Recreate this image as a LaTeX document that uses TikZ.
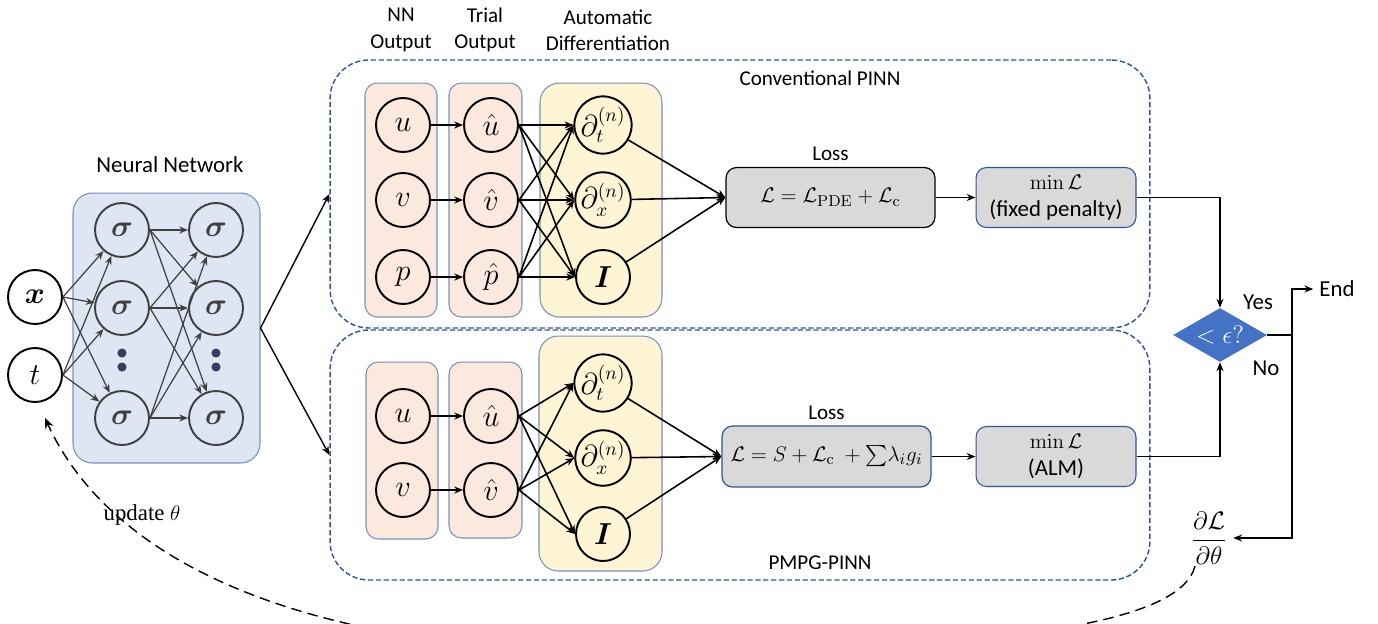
\documentclass[tikz,border=0pt]{standalone}
\usepackage{amsmath}
\usepackage[no-math]{fontspec}
\setmainfont{Carlito}
\newfontfamily\cambria{Liberation Serif}
\usetikzlibrary{arrows.meta,shapes.geometric,positioning}
\definecolor{nnfill}{RGB}{222,230,243}
\definecolor{nnedge}{RGB}{120,145,190}
\definecolor{nngray}{RGB}{64,64,64}
\definecolor{dotblue}{RGB}{50,65,95}
\definecolor{pinkfill}{RGB}{251,233,222}
\definecolor{yellowfill}{RGB}{255,244,212}
\definecolor{lossgray}{RGB}{217,217,217}
\definecolor{panelblue}{RGB}{47,85,151}
\definecolor{diamondblue}{RGB}{68,114,196}

\begin{document}
\begin{tikzpicture}[x=0.02cm,y=-0.02cm, % one unit = one pixel of the sketch
  font=\fontsize{12}{15}\selectfont,
  neuron/.style={circle,draw=black,line width=1.1pt,minimum size=1.08cm,inner sep=0pt,font=\fontsize{16}{18}\selectfont},
  hidden/.style={neuron,draw=nngray,text=nngray},
  layerbox/.style={draw=nnedge,line width=0.6pt,rounded corners=7pt},
  panel/.style={draw=panelblue,line width=0.8pt,dash pattern=on 3pt off 1.5pt,rounded corners=22pt},
  lossbox/.style={draw,fill=lossgray,rounded corners=6pt,minimum width=4.18cm,minimum height=1.2cm,line width=0.7pt,font=\fontsize{13}{15}\selectfont},
  minbox/.style={draw=panelblue,fill=lossgray,rounded corners=6pt,minimum width=3.2cm,minimum height=1.2cm,align=center,line width=0.6pt,font=\fontsize{13}{15}\selectfont},
  nnarrow/.style={draw=nngray,line width=0.7pt,-{Stealth[length=5pt,width=4pt]}},
  conn/.style={line width=0.9pt,-{Stealth[length=5pt,width=4pt]}},
  flow/.style={line width=0.8pt,-{Stealth[length=5pt,width=4pt]}}]

\useasboundingbox (0,0) rectangle (1378,623);

\def\nnx{403} % NN output column
\def\hatx{491} % trial output column
\def\adx{603} % automatic differentiation column

%% neural network
\node[font=\fontsize{13}{15}\selectfont] (nntitle) at (170,165) {Neural Network};
\node[layerbox,fill=nnfill,rounded corners=11pt,minimum width=3.74cm,minimum height=5.4cm] (nnbox) at (166.5,328) {};
\node[neuron] (x) at (35,297) {$\boldsymbol{x}$};
\node[neuron] (t) at (35,375) {$t$};
\foreach \i/\yy in {1/230,2/308,3/418} {
  \node[hidden] (h1\i) at (122,\yy) {$\boldsymbol{\sigma}$};
  \node[hidden] (h2\i) at (216,\yy) {$\boldsymbol{\sigma}$};
}
\foreach \xx in {122,216} {
  \fill[dotblue] (\xx,353) circle (2.6pt);
  \fill[dotblue] (\xx,367) circle (2.6pt);
}
\foreach \i in {1,2,3} {
  \draw[nnarrow] (x.east) -- (h1\i);
  \draw[nnarrow] (t.east) -- (h1\i);
  \foreach \j in {1,2,3} \draw[nnarrow] (h1\i.east) -- (h2\j);
}

%% column headers
\node[align=center] (hdrnn) at (401,30) {NN\\Output};
\node[align=center] (hdrtrial) at (485,30) {Trial\\Output};
\node[align=center] (hdrad) at (608,30) {Automatic\\Differentiation};

%% the two panels
\node[panel,minimum width=16.4cm,minimum height=5.36cm] (conv) at (740,194) {};
\node (convtitle) at (820,78) {Conventional PINN};
\node[panel,minimum width=16.4cm,minimum height=5.0cm] (pmpg) at (740,455) {};
\node (pmpgtitle) at (820,563) {PMPG-PINN};
\draw[flow] (nnbox.east) -- (conv.west);
\draw[flow] (nnbox.east) -- (pmpg.west);

%% conventional PINN
\node[layerbox,fill=pinkfill,minimum width=1.44cm,minimum height=4.68cm] (nnout1) at (401,200) {};
\node[layerbox,fill=pinkfill,minimum width=1.46cm,minimum height=4.68cm] (trial1) at (485.5,200) {};
\node[layerbox,fill=yellowfill,rounded corners=11pt,minimum width=2.44cm,minimum height=4.68cm] (ad1) at (601,200) {};
\node[neuron] (u1) at (\nnx,125) {$u$};
\node[neuron] (v1) at (\nnx,200) {$v$};
\node[neuron] (p1) at (\nnx,277) {$p$};
\node[neuron] (uh1) at (\hatx,125) {$\hat{u}$};
\node[neuron] (vh1) at (\hatx,200) {$\hat{v}$};
\node[neuron] (ph1) at (\hatx,277) {$\hat{p}$};
\node[neuron] (dt1) at (\adx,125) {$\partial_t^{(n)}$};
\node[neuron] (dx1) at (\adx,200) {$\partial_x^{(n)}$};
\node[neuron] (id1) at (\adx,277) {$\boldsymbol{I}$};
\foreach \a in {u,v,p} \draw[conn] (\a1) -- (\a h1);
\foreach \a in {uh1,vh1,ph1}
  \foreach \b in {dt1,dx1,id1} \draw[conn] (\a.east) -- (\b.west);
\node[lossbox] (loss1) at (830.5,197.5) {$\mathcal{L} = \mathcal{L}_{\mathrm{PDE}} + \mathcal{L}_{\mathrm{c}}$};
\node[above=0pt of loss1] (losslbl1) {Loss};
\foreach \b in {dt1,dx1,id1} \draw[conn] (\b) -- (loss1.west);
\node[minbox] (min1) at (1056,197.5) {$\min\mathcal{L}$\\(fixed penalty)};
\draw[flow] (loss1) -- (min1);

%% PMPG-PINN
\node[layerbox,fill=pinkfill,minimum width=1.44cm,minimum height=3.54cm] (nnout2) at (402,450.5) {};
\node[layerbox,fill=pinkfill,minimum width=1.46cm,minimum height=3.52cm] (trial2) at (485.5,450) {};
\node[layerbox,fill=yellowfill,rounded corners=11pt,minimum width=2.46cm,minimum height=4.7cm] (ad2) at (600.5,453.5) {};
\node[neuron] (u2) at (\nnx,416) {$u$};
\node[neuron] (v2) at (\nnx,490) {$v$};
\node[neuron] (uh2) at (\hatx,416) {$\hat{u}$};
\node[neuron] (vh2) at (\hatx,490) {$\hat{v}$};
\node[neuron] (dt2) at (\adx,383) {$\partial_t^{(n)}$};
\node[neuron] (dx2) at (\adx,458) {$\partial_x^{(n)}$};
\node[neuron] (id2) at (\adx,534) {$\boldsymbol{I}$};
\foreach \a in {u,v} \draw[conn] (\a2) -- (\a h2);
\foreach \a in {uh2,vh2}
  \foreach \b in {dt2,dx2,id2} \draw[conn] (\a.east) -- (\b.west);
\node[lossbox,draw=panelblue,minimum height=1.22cm] (loss2) at (826.5,456.5) {$\mathcal{L} = S + \mathcal{L}_{\mathrm{c}}\ + \sum\!\lambda_i g_i$};
\node[above=0pt of loss2] (losslbl2) {Loss};
\foreach \b in {dt2,dx2,id2} \draw[conn] (\b) -- (loss2.west);
\node[minbox] (min2) at (1056,456.5) {$\min\mathcal{L}$\\(ALM)};
\draw[flow] (loss2) -- (min2);

%% stopping test
\node[diamond,fill=diamondblue,aspect=1.74,minimum width=1.88cm,minimum height=1.08cm,inner sep=0pt,text=white,font=\fontsize{14}{16}\selectfont] (dec) at (1220,335) {$<\epsilon?$};
\draw[flow] (min1.east) -| (dec.north);
\draw[flow] (min2.east) -| (dec.south);
\node[font=\fontsize{13}{15}\selectfont] (yes) at (1258,302) {Yes};
\node[font=\fontsize{13}{15}\selectfont] (no) at (1266,368) {No};
\coordinate (split) at (1292,335);
\draw[line width=0.8pt] (dec.east) -- (split);
\node[font=\fontsize{13}{15}\selectfont] (endnode) at (1337,289) {End};
\draw[flow] (split) |- (endnode.west);
\node[font=\fontsize{14}{16}\selectfont] (grad) at (1209,538) {$\dfrac{\partial\mathcal{L}}{\partial\theta}$};
\draw[flow] (split) |- (grad.east);

%% back to the network
\node[font=\cambria\fontsize{13}{15}\selectfont] (upd) at (142,515) {update $\theta$};
\coordinate (gradtail) at (1195,566);
\coordinate (low) at (640,652);
\coordinate (back) at (45,418);
\draw[line width=0.8pt,dash pattern=on 6pt off 3.5pt,-{Stealth[length=6pt,width=5pt]}]
  (gradtail) .. controls (1180,625) and (1000,650) .. (low)
  .. controls (300,654) and (110,560) .. (back);

\end{tikzpicture}
\end{document}
